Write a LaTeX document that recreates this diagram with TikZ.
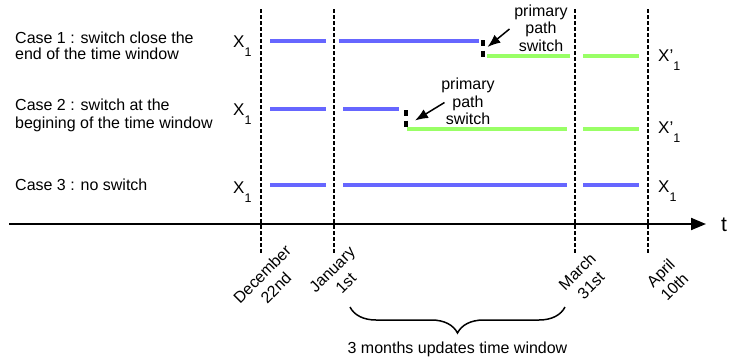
\documentclass[tikz,border=0pt]{standalone}
\usepackage{fontspec}
\setmainfont{Liberation Sans}
\usetikzlibrary{arrows.meta,decorations.pathreplacing}
\definecolor{lineblue}{RGB}{102,102,255}
\definecolor{linegreen}{RGB}{153,255,102}
\newcommand{\xlabel}[1]{{\fontsize{17}{17}\selectfont #1}\raisebox{-9pt}{\fontsize{12.5}{12.5}\selectfont 1}}
\begin{document}
\begin{tikzpicture}[x=1pt,y=-1pt,
  lbl/.style={font=\fontsize{16}{17.5}\selectfont, inner sep=0pt},
  blueln/.style={line width=3.5pt, draw=lineblue},
  greenln/.style={line width=3.5pt, draw=linegreen},
  guide/.style={line width=2pt, dash pattern=on 3.5pt off 2.5pt},
  swmark/.style={line width=4pt, dash pattern=on 6pt off 4.5pt},
  callout/.style={line width=1.5pt, -{Latex[length=13pt,width=10pt]}},
  datelbl/.style={inner sep=0pt, rotate=45, align=center, font=\fontsize{16}{19.5}\selectfont},
  xl/.style={inner sep=0pt, anchor=base west}]
\useasboundingbox (0,0) rectangle (732,360);

% case texts
\node[lbl, anchor=base west] (c1a) at (15,43) {Case 1 : switch close the};
\node[lbl, anchor=base west] (c1b) at (15,59.5) {end of the time window};
\node[lbl, anchor=base west] (c2a) at (15,110.5) {Case 2 : switch at the};
\node[lbl, anchor=base west] (c2b) at (15,128) {begining of the time window};
\node[lbl, anchor=base west] (c3a) at (15,190.5) {Case 3 : no switch};

% vertical guides
\foreach \n/\x in {g1/261,g2/334,g3/575,g4/648}{
  \coordinate (\n t) at (\x,9);
  \coordinate (\n b) at (\x,254);
  \draw[guide] (\n t) -- (\n b);
}

% axis
\coordinate (axs) at (9,224);
\coordinate (axe) at (706,224);
\draw[line width=2pt, -{Triangle[length=15pt,width=12pt]}] (axs) -- (axe);
\node[inner sep=0pt, anchor=base, font=\fontsize{21}{21}\selectfont] (tlab) at (724,231) {t};

% X labels left
\node[xl] (xl1) at (233,47) {\xlabel{X}};
\node[xl] (xl2) at (233,115) {\xlabel{X}};
\node[xl] (xl3) at (233,193) {\xlabel{X}};
% X labels right
\node[xl] (xr1) at (658,61) {\xlabel{X’}};
\node[xl] (xr2) at (658,133) {\xlabel{X’}};
\node[xl] (xr3) at (658,192) {\xlabel{X}};

% row 1
\draw[blueln] (270,41) -- (326,41);
\draw[blueln] (339,41) -- (479,41);
\coordinate (m1t) at (482.5,40);
\coordinate (m1b) at (482.5,60);
\draw[swmark] (m1t) -- (m1b);
\draw[greenln] (487,56) -- (570,56);
\draw[greenln] (583,56) -- (639,56);

% row 2
\draw[blueln] (270,109) -- (326,109);
\draw[blueln] (343,109) -- (399,109);
\coordinate (m2t) at (405.5,110);
\coordinate (m2b) at (405.5,128.5);
\draw[swmark] (m2t) -- (m2b);
\draw[greenln] (407,129) -- (567,129);
\draw[greenln] (583,129) -- (639,129);

% row 3
\draw[blueln] (270,185) -- (326,185);
\draw[blueln] (343,185) -- (567,185);
\draw[blueln] (583,185) -- (639,185);

% callouts
\node[lbl, align=center] (pps1) at (541,28) {primary\\path\\switch};
\node[lbl, align=center] (pps2) at (468,101.5) {primary\\path\\switch};
\coordinate (a1s) at (509.5,29);
\coordinate (a1e) at (487.5,47);
\coordinate (a2s) at (444.5,102.5);
\coordinate (a2e) at (415,120.5);
\draw[callout] (a1s) -- (a1e);
\draw[callout] (a2s) -- (a2e);

% dates
\node[datelbl] (d1) at (269,281) {December\\22nd};
\node[datelbl] (d2) at (339,276.5) {January\\1st};
\node[datelbl] (d3) at (584,278.5) {March\\31st};
\node[datelbl] (d4) at (667.5,280) {April\\10th};

% brace
\coordinate (bl) at (350,307);
\coordinate (br) at (565,307);
\draw[line width=1.5pt, decorate, decoration={brace, mirror, amplitude=26pt}] (bl) -- (br);
\node[lbl, anchor=base] (win) at (457.5,353) {3 months updates time window};
\end{tikzpicture}
\end{document}
